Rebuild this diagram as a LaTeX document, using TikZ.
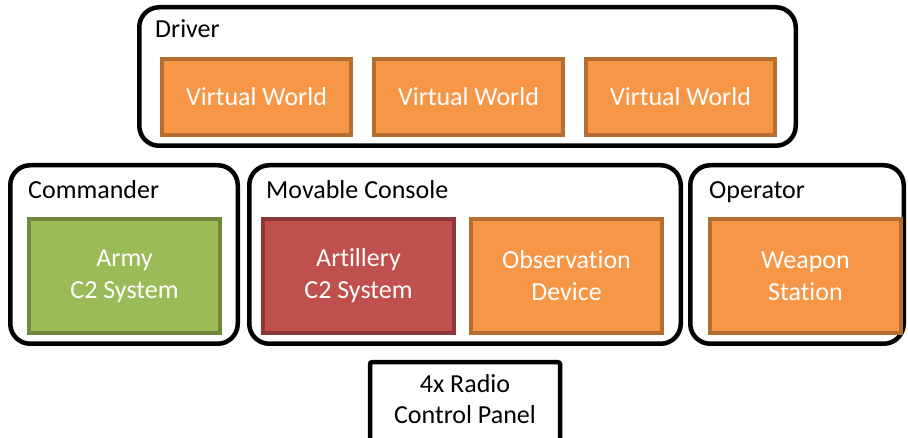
\documentclass[tikz,border=0pt]{standalone}
\usepackage{fontspec}
\setmainfont{Carlito}[Ligatures=NoCommon]
\usepackage{xcolor}
\definecolor{unitorange}{RGB}{247, 150, 70}
\definecolor{edgeorange}{RGB}{182, 109, 49}
\definecolor{unitgreen}{RGB}{155, 187, 89}
\definecolor{edgegreen}{RGB}{113, 137, 63}
\definecolor{unitred}{RGB}{192, 80, 77}
\definecolor{edgered}{RGB}{140, 56, 54}
\usetikzlibrary{positioning}

\begin{document}
\begin{tikzpicture}[
    x=1pt, y=-1pt,
    node distance=19pt,
    group/.style={rectangle, draw=black, line width=4.5pt, fill=white,
                  rounded corners=20pt, anchor=north west, inner sep=0pt},
    grouplabel/.style={anchor=base west, inner sep=0pt,
                  font=\fontsize{26}{32}\selectfont},
    unit/.style={rectangle, line width=4pt, align=center, inner sep=0pt,
                  text=white, font=\fontsize{26}{32}\selectfont},
    orangeunit/.style={unit, draw=edgeorange, fill=unitorange},
    greenunit/.style={unit, draw=edgegreen, fill=unitgreen},
    redunit/.style={unit, draw=edgered, fill=unitred},
    wide/.style={minimum width=189pt, minimum height=76pt},
    tall/.style={minimum width=191pt, minimum height=114pt},
    panel/.style={rectangle, draw=black, line width=4.5pt, fill=white,
                  rounded corners=2pt, minimum width=190pt, inner ysep=12pt,
                  text depth=30pt, align=center,
                  font=\fontsize{26}{31}\selectfont}
]
    \useasboundingbox (0,0) rectangle (908,438);

    % Groups
    \node[group, minimum width=656.5pt, minimum height=138.5pt] (driver) at (137,5) {};
    \node[group, minimum width=227.5pt, minimum height=178.5pt] (commander) at (8,163) {};
    \node[group, minimum width=431.5pt, minimum height=178.5pt] (console) at (247,163) {};
    \node[group, minimum width=213.5pt, minimum height=178.5pt] (operator) at (688,163) {};

    % Group labels
    \node[grouplabel] (driver-lbl) at (155,38) {Driver};
    \node[grouplabel] (commander-lbl) at (28,199) {Commander};
    \node[grouplabel] (console-lbl) at (266,199) {Movable Console};
    \node[grouplabel] (operator-lbl) at (709,199) {Operator};

    % Driver units
    \node[orangeunit, wide, anchor=north west] (world1) at (160,57) {Virtual World};
    \node[orangeunit, wide, right=of world1] (world2) {Virtual World};
    \node[orangeunit, wide, right=of world2] (world3) {Virtual World};

    % Lower units
    \node[greenunit, tall, anchor=north west] (army) at (27,217) {Army\\C2 System};
    \node[redunit, tall, anchor=north west] (artillery) at (261,217) {Artillery\\C2 System};
    \node[orangeunit, tall, right=13pt of artillery] (observation) {Observation\\Device};
    \node[orangeunit, tall, anchor=north west] (weapon) at (708,217) {Weapon\\Station};

    % Radio panel
    \node[panel, anchor=north] (radio) at (465,360) {4x Radio\\Control Panel};
\end{tikzpicture}
\end{document}
